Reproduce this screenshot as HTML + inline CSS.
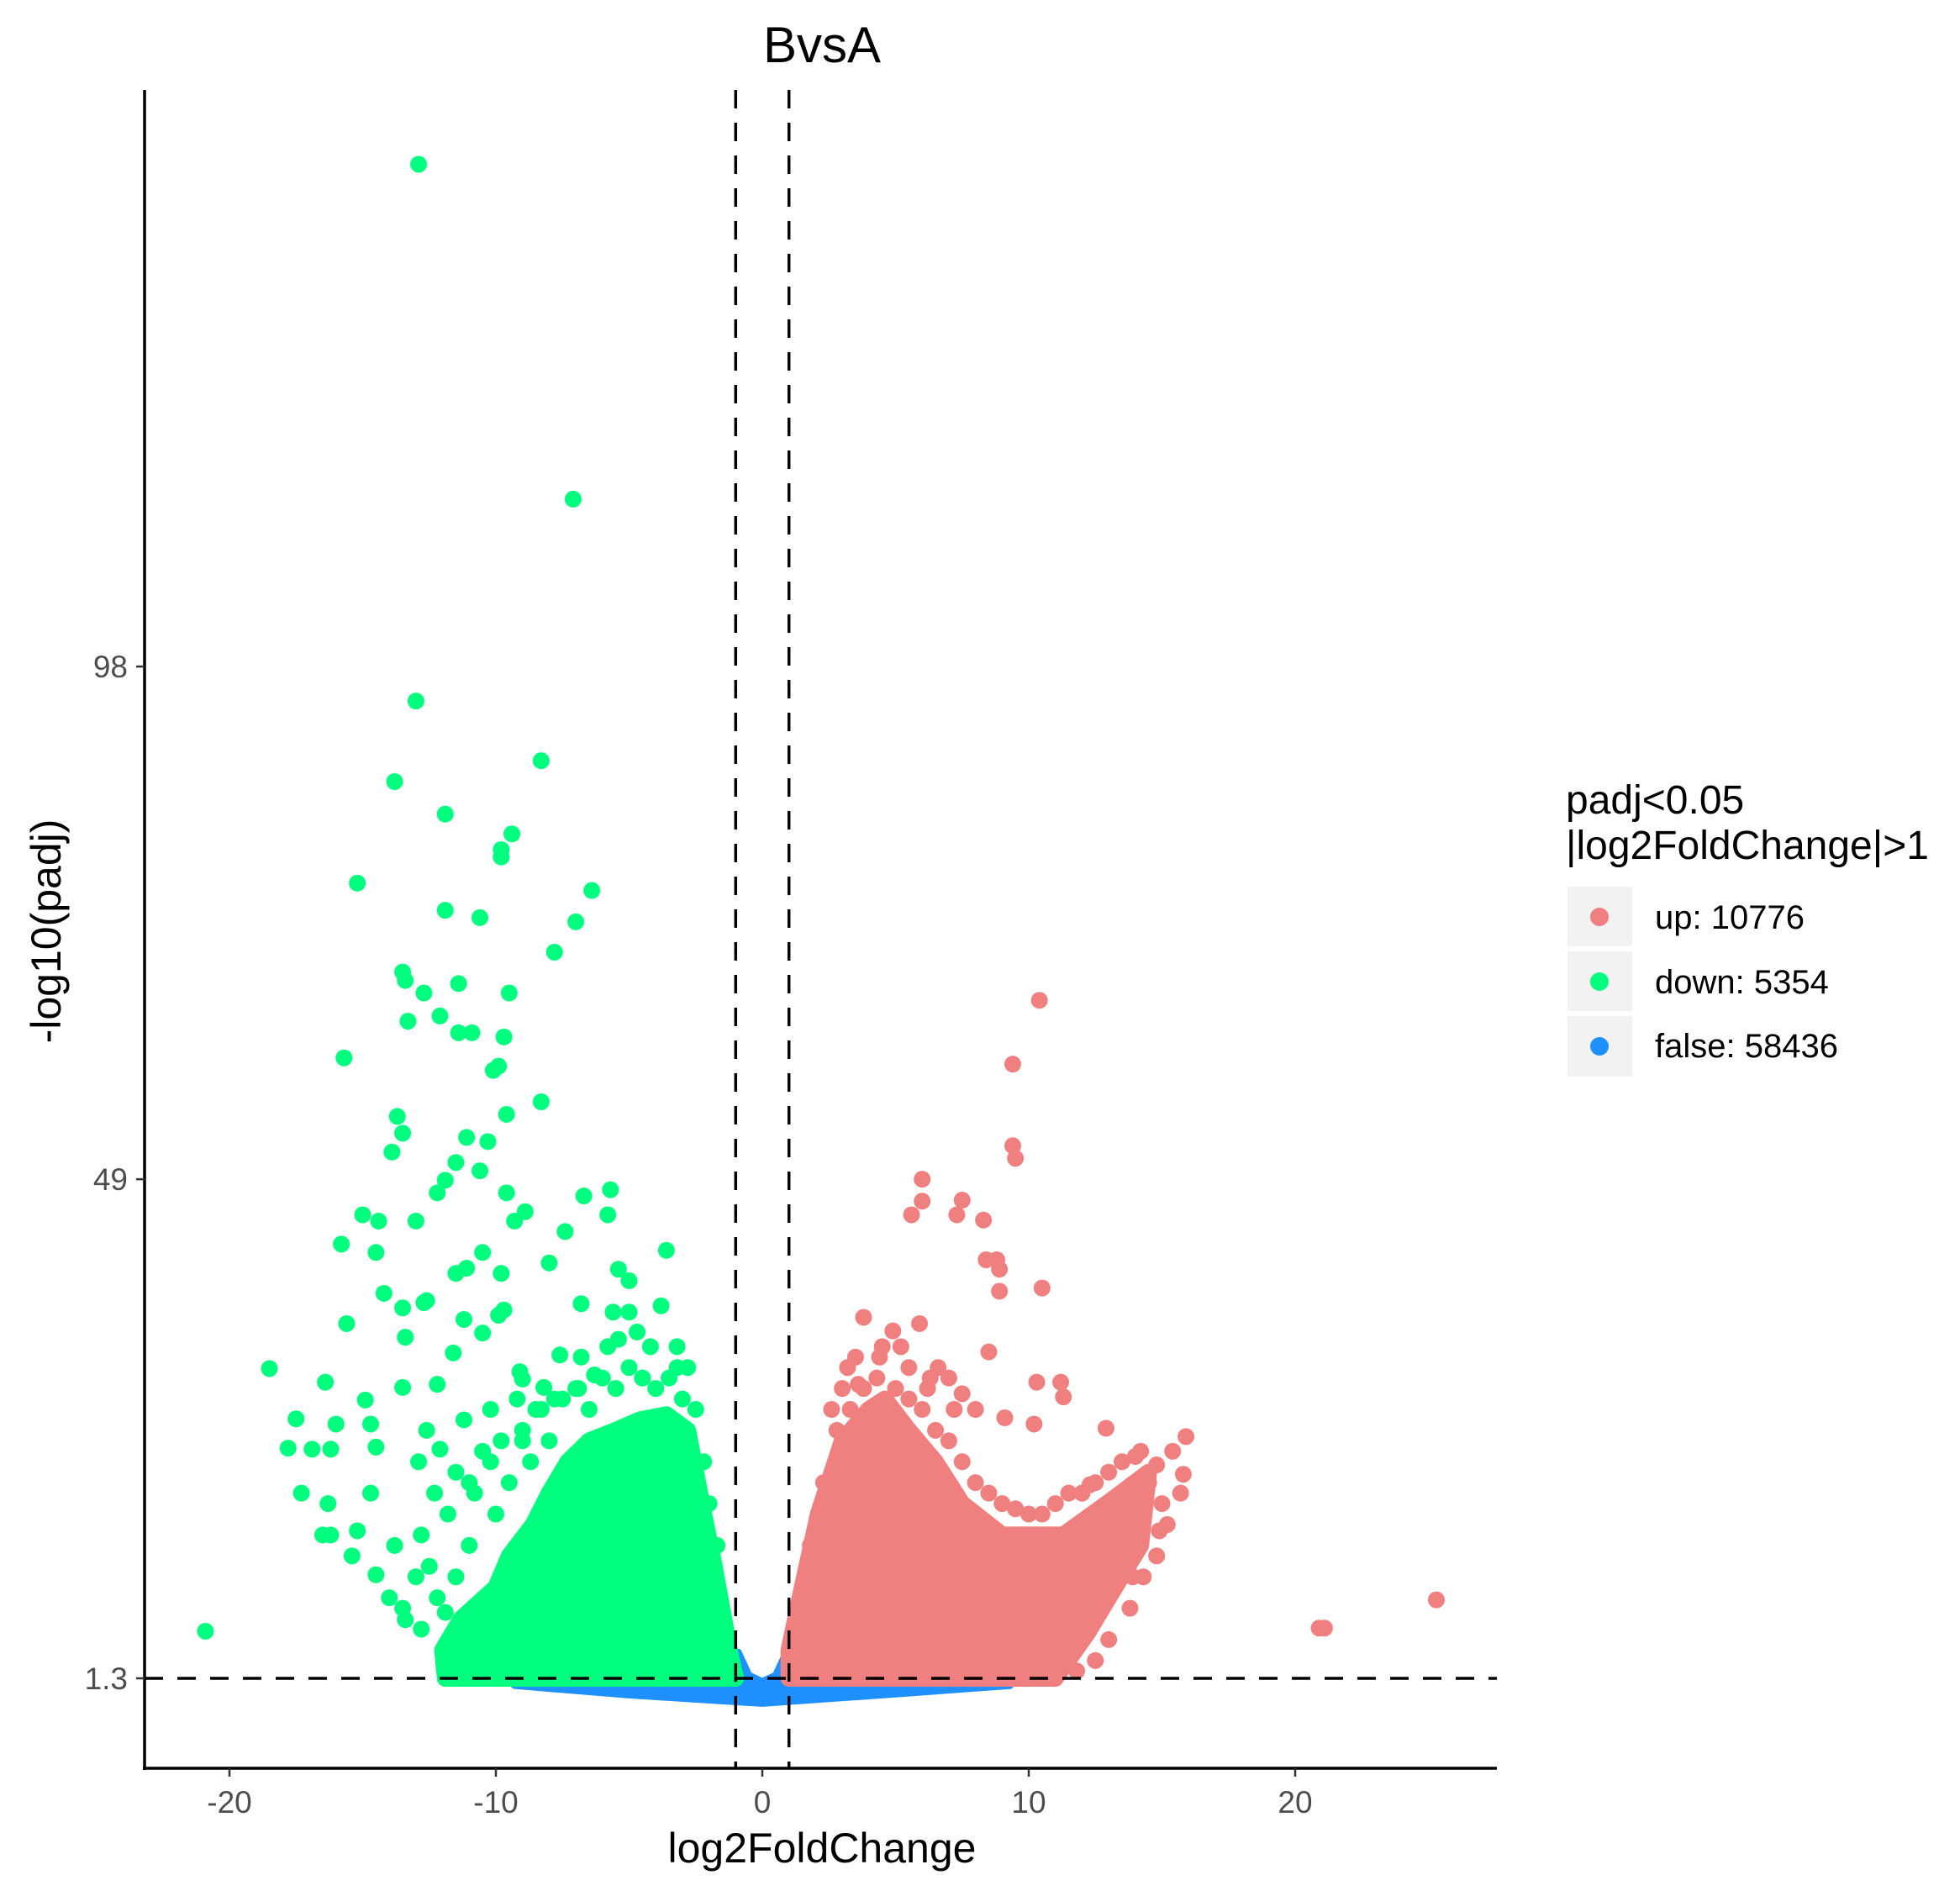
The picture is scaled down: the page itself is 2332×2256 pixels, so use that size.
<!DOCTYPE html>
<html><head><meta charset="utf-8"><style>
html,body{margin:0;padding:0;background:#fff;}
svg{display:block;font-family:"Liberation Sans",Arial,sans-serif;}
</style></head><body>
<svg id="chart" width="2332" height="2256" viewBox="0 0 2332 2256" xmlns="http://www.w3.org/2000/svg">
<text x="978" y="74" font-size="60" text-anchor="middle" fill="#000">BvsA</text>
<g id="plot"></g>
<text x="978" y="2216" font-size="50" text-anchor="middle" fill="#000">log2FoldChange</text>
<text transform="translate(72,1108) rotate(-90)" font-size="50" text-anchor="middle" fill="#000">-log10(padj)</text>
<g>
<text x="1863" y="968" font-size="48" fill="#000">padj&lt;0.05</text>
<text x="1863" y="1022" font-size="48" fill="#000">|log2FoldChange|&gt;1</text>
<g>
<rect x="1865" y="1055" width="77" height="71" fill="#f2f2f2"/><circle cx="1903" cy="1091" r="11" fill="#F08080"/>
<text x="1969" y="1105" font-size="40" fill="#000">up: 10776</text></g>
<g>
<rect x="1865" y="1132" width="77" height="71" fill="#f2f2f2"/><circle cx="1903" cy="1168" r="11" fill="#00FF7F"/>
<text x="1969" y="1182" font-size="40" fill="#000">down: 5354</text></g>
<g>
<rect x="1865" y="1209" width="77" height="72" fill="#f2f2f2"/><circle cx="1903" cy="1245" r="11" fill="#1E90FF"/>
<text x="1969" y="1258" font-size="40" fill="#000">false: 58436</text></g>
</g>
</svg>
<script>
const xTicks = [-20, -10, 0, 10, 20];
const yTicks = [1.3, 49, 98];
const yTickLabels = ["1.3", "49", "98"];
const vLines = [-1, 1];
const hLine = 1.3;
// dense cloud envelopes (data coordinates)
const blueEnvX = [-9.6,-9.3,-1.2,-0.9,-0.5,0,0.5,0.9,1.2,9.2,9.5,9.3,5,0,-5,-9.3];
const blueEnvY = [1.6,2.3,2.4,3.8,1.6,1.0,1.6,3.8,2.4,2.3,1.6,0.6,-0.2,-1.1,-0.3,0.6];
const greenEnvX = [-11.9,-12.0,-11.3,-10,-9.5,-8.6,-8,-7.3,-6.5,-5.5,-4.6,-3.6,-2.8,-2.5,-2.2,-1.8,-1.2,-1.0];
const greenEnvY = [1.3,4,7,10,13,16,19,22,24,25,26,26.5,25,21,17,12,3.5,1.3];
const redEnvX = [1.0,1.0,1.5,2.1,3.0,4.0,4.6,5.5,6.5,7.5,9,11.3,13.2,14.5,14.2,13,12.2,11];
const redEnvY = [1.3,4,10,17,24,27,28,25,22,18,15,15,18.5,21,14,9,5.6,1.3];
// individual points
const downX = [-12.9,-7.1,-13.0,-8.3,-13.8,-11.9,-9.4,-9.8,-9.8,-15.2,-6.4,-11.9,-10.6,-7.0,-7.8,-13.5,-13.4,-12.7,-11.4,-9.5,-12.1,-13.3,-11.4,-10.9,-9.7,-9.9,-10.1,-15.7,-8.3,-9.6,-13.7,-13.5,-11.1,-10.3,-11.5,-13.9,-10.6,-5.7,-12.2,-6.7,-9.6,-11.9,-5.8,-15.0,-8.9,-9.3,-13.0,-14.4,-7.4,-15.8,-14.5,-3.6,-10.5,-8.0,-11.1,-11.5,-9.8,-5.4,-5.0,-14.2,-12.6,-12.7,-6.8,-13.5,-9.7,-9.9,-3.8,-5.6,-5.0,-15.6,-11.2,-4.7,-5.4,-13.4,-10.5,-7.6,-11.6,-18.5,-9.1,-9.0,-16.4,-13.5,-12.2,-14.9,-8.2,-6.3,-17.5,-16.0,-14.7,-12.6,-14.5,-17.8,-16.9,-16.2,-12.1,-17.3,-16.3,-14.7,-16.5,-16.2,-15.2,-15.4,-14.5,-13.4,-20.9,-11.9,-11.0,-10.2,-9.0,-8.5,-7.8,-6.9,-4.5,-3.2,-2.6,
 -13.5,-13,-12.8,-12.3,-12.5,-11.8,-11.5,-11,-10.8,-10.5,-10,-9.8,-9.5,-9,-8.7,-8.3,-8,-7.5,-7,-6.5,-6,-5.5,-5,-4.5,-4,-3.5,-3,-2.5,-2.2,-2,-1.7,-12.8,-12.2,-11.5,-14,-13.8,-12.9,-11.2,-10.2,-9.2,-6.8,-5.8,-4.2,-3.2,-2.8];
const downY = [146,114,94.7,89,87,83.9,82,80.5,79.8,77.3,76.6,74.7,74,73.6,70.7,68.8,68,66.8,67.7,66.8,64.6,64.1,63,63,62.6,59.8,59.4,60.6,56.4,55.2,55,53.4,53,52.6,50.6,51.6,49.8,48,47.7,47.4,47.7,48.9,45.6,45.6,45.9,45,45,45,44,42.8,42,42.2,42,41,40.5,40,40,40.4,39.3,38.1,37.4,37.2,37.1,36.7,36.5,36.0,36.9,36.3,36.3,35.2,35.6,34.4,33.7,33.9,34.3,32.2,32.4,30.9,30.6,29.9,29.6,29.1,29.4,27.9,29.1,30.3,26.1,25.6,25.6,25,23.4,23.3,23.2,23.2,23.2,19,18,19,15,15,15.4,13,11.2,6.9,5.8,7.6,20,22,24,27,28,29,30,31,22,
 8,11,15,19,12,17,21,14,19,23,17,24,20,25,22,27,24,28,29,27,30,29,31,30,29,30,28,27,22,18,14,6,9,11,9,14,22,26,27,28,32,33,33,33,31];
const upX = [10.4,9.4,9.4,9.5,6.0,6.0,7.5,5.6,7.3,8.3,8.4,8.8,8.9,10.5,8.9,3.8,5.9,4.9,8.5,10.3,11.2,11.3,3.6,7.5,10.2,12.9,9.1,15.9,15.4,14.2,15.8,14.8,15.7,12.3,14.9,13.9,25.3,20.9,21.1,11.1,9.9,3.2,4.4,5.2,6.6,7.0,8.0,3.0,2.6,6.2,
 1.3,1.8,2.3,2.8,3.3,3.8,4.3,5,5.5,6,6.5,7,7.5,8,8.5,9,9.5,10,10.5,11,11.5,12,12.5,13,13.5,14,14.5,15,15.2,14.8,14.3,13.8,13,12.5,11.8,3.5,4.5,5.5,6.3,7.2];
const upY = [66.1,60,52.2,51,49,46.9,47,45.6,45.6,45.1,41.3,41.3,40.4,38.6,38.3,35.8,35.2,34.5,32.5,29.6,29.6,28.2,29.4,28.5,25.6,25.2,26.2,24.4,23,23,20.8,21.7,19,19.8,15.4,11,8.8,6.1,6.1,2.9,1.7,31,32,33,31,30,27,29,27,29,
 8,14,20,25,27,29,30,29,28,27,25,24,22,20,19,18,17.5,17,17,18,19,19,20,21,22,22.5,20,18,16,13,11,8,5,3,2,32,33,31,30,27];

const X0 = 907, XS = 31.7, Y0 = 1997, YS = 12.45;
const AX_L = 172, AX_R = 1781, AX_T = 107, AX_B = 2104;
function sx(v){ return X0 + v*XS; }
function sy(v){ return Y0 - (v-1.3)*YS; }
const NS = "http://www.w3.org/2000/svg";
const plot = document.getElementById('plot');
function mk(tag, attrs){ const e=document.createElementNS(NS,tag); for(const k in attrs) e.setAttribute(k,attrs[k]); plot.appendChild(e); return e; }
function envPath(xs, ys){ return xs.map((x,i)=>(i?'L':'M')+sx(x).toFixed(1)+','+sy(ys[i]).toFixed(1)).join(' ')+' Z'; }

let p = mk('path',{d:envPath(blueEnvX,blueEnvY),fill:'#1E90FF',stroke:'#1E90FF','stroke-width':8,'stroke-linejoin':'round'});


p = mk('path',{d:envPath(greenEnvX,greenEnvY),fill:'#00FF7F',stroke:'#00FF7F','stroke-width':20,'stroke-linejoin':'round'});


p = mk('path',{d:envPath(redEnvX,redEnvY),fill:'#F08080',stroke:'#F08080','stroke-width':20,'stroke-linejoin':'round'});



downX.forEach((x,i)=>{
  const c = mk('circle',{cx:sx(x),cy:sy(downY[i]),r:10,fill:'#00FF7F'});
  
  
});
upX.forEach((x,i)=>{
  const c = mk('circle',{cx:sx(x),cy:sy(upY[i]),r:10,fill:'#F08080'});
  
  
});

vLines.forEach(v=>{
  const l = mk('line',{x1:sx(v),x2:sx(v),y1:AX_T,y2:AX_B,stroke:'#000','stroke-width':3.5,'stroke-dasharray':'22 17'});
  
  
});
const hl = mk('line',{x1:AX_L,x2:AX_R,y1:sy(hLine),y2:sy(hLine),stroke:'#000','stroke-width':3.5,'stroke-dasharray':'22 17'});



const ya = mk('line',{x1:AX_L,x2:AX_L,y1:AX_T,y2:AX_B+2,stroke:'#000','stroke-width':3.5});


const xa = mk('line',{x1:AX_L-2,x2:AX_R,y1:AX_B,y2:AX_B,stroke:'#000','stroke-width':3.5});



xTicks.forEach(v=>{
  const t = mk('line',{x1:sx(v),x2:sx(v),y1:AX_B,y2:AX_B+10,stroke:'#333','stroke-width':2.5});
  
  
  const tx = mk('text',{x:sx(v),y:2157,'font-size':37,'text-anchor':'middle',fill:'#4D4D4D'});
  tx.textContent = String(v);
  
  
});
yTicks.forEach((v,i)=>{
  const t = mk('line',{x1:AX_L-10,x2:AX_L,y1:sy(v),y2:sy(v),stroke:'#333','stroke-width':2.5});
  
  
  const tx = mk('text',{x:AX_L-20,y:sy(v)+13,'font-size':37,'text-anchor':'end',fill:'#4D4D4D'});
  tx.textContent = yTickLabels[i];
  
  
});
</script>
</body></html>
